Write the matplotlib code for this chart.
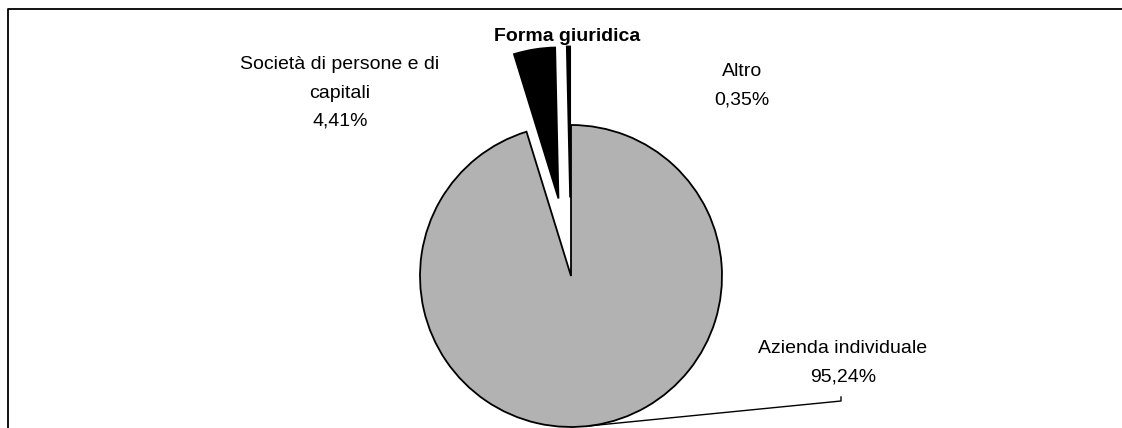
import numpy as np
import matplotlib
matplotlib.use("Agg")
import matplotlib.pyplot as plt

plt.rcParams['font.family'] = ['Liberation Sans', 'DejaVu Sans']

title = "Forma giuridica"
categories = ["Azienda individuale", "Società di persone e di\ncapitali", "Altro"]
values = [95.24, 4.41, 0.35]
value_labels = ["95,24%", "4,41%", "0,35%"]
colors = ["#b2b2b2", "#000000", "#000000"]

W, H = 1122, 428
fig = plt.figure(figsize=(W / 100, H / 100), dpi=100)
ax = fig.add_axes([0, 0, 1, 1])

cx, cy, r = 571, H - 276, 151
explode = [0.0, 0.52 * r, 0.52 * r]  # matplotlib offsets in data units
ax.pie(values, colors=colors, explode=explode, startangle=90, counterclock=False,
       center=(cx, cy), radius=r, frame=True,
       wedgeprops=dict(edgecolor='black', linewidth=1.3))
ax.set_xlim(0, W)
ax.set_ylim(0, H)
ax.set_aspect('equal')
ax.axis('off')

# frame
ax.plot([8, 8, W + 5], [-5, H - 9, H - 9], color='black', lw=1.3, clip_on=False)

# title
ax.text(567, H - 36, title, ha='center', va='center', fontsize=14, fontweight='bold')

fs = 14
ls = 1.85
ax.text(340, H - 93, categories[1] + "\n" + value_labels[1], ha='center', va='center',
        fontsize=fs, linespacing=ls)
ax.text(742, H - 86, categories[2] + "\n" + value_labels[2], ha='center', va='center',
        fontsize=fs, linespacing=ls)
ax.text(843, H - 363, categories[0] + "\n" + value_labels[0], ha='center', va='center',
        fontsize=fs, linespacing=ls)

# leader line
ang = np.deg2rad(-83)
px, py = cx + r * np.cos(ang), cy + r * np.sin(ang)
ax.plot([px, 841, 841], [py, H - 401, H - 397], color='black', lw=1.0)

fig.savefig("out.png", dpi=100)
